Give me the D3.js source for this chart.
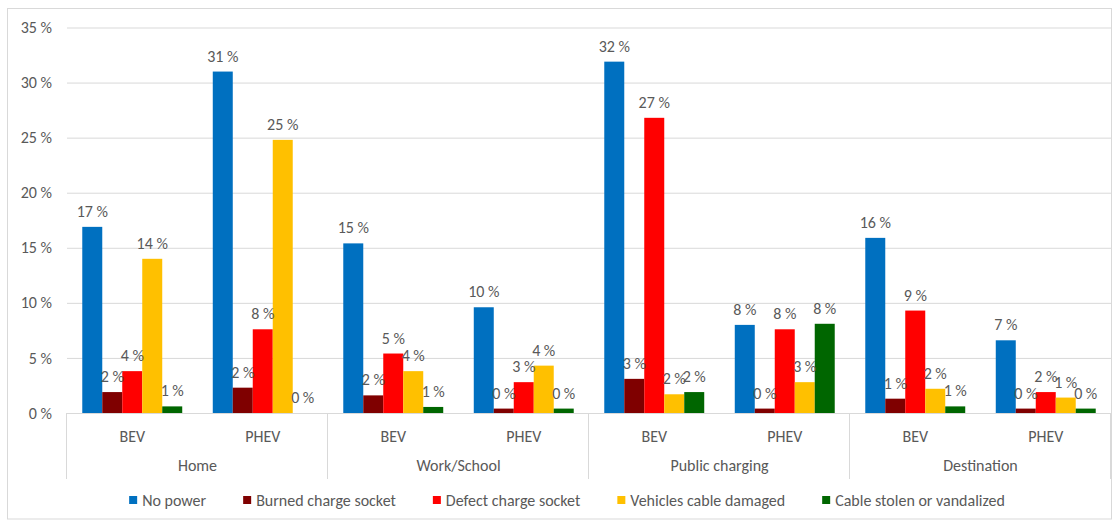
<!DOCTYPE html>
<html>
<head>
<meta charset="utf-8">
<script src="https://cdn.jsdelivr.net/npm/d3@7"></script>
<style>
  html, body { margin: 0; padding: 0; background: #fff; }
  svg { display: block; font-family: Calibri, Carlito, Lato, "Open Sans", sans-serif; }
  .lbl { fill: #595959; font-size: 16px; }
</style>
</head>
<body>
<svg id="chart" width="1112" height="522"></svg>
<script>
// Charging locations (outer level) and vehicle types (inner level)
const locations = ["Home", "Work/School", "Public charging", "Destination"];
const vehicles = ["BEV", "PHEV"];

// Failure types shown as series
const seriesNames = ["No power", "Burned charge socket", "Defect charge socket", "Vehicles cable damaged", "Cable stolen or vandalized"];
const seriesColors = ["#0070C0", "#7F0000", "#FF0000", "#FFC000", "#006600"];

// Share of respondents (%), in order: Home BEV, Home PHEV, Work BEV, Work PHEV,
// Public BEV, Public PHEV, Destination BEV, Destination PHEV
const noPower       = [16.9, 31.0, 15.4, 9.6, 31.9, 8.0, 15.9, 6.6];
const burnedSocket  = [1.9, 2.3, 1.6, 0.4, 3.1, 0.4, 1.3, 0.4];
const defectSocket  = [3.8, 7.6, 5.4, 2.8, 26.8, 7.6, 9.3, 1.9];
const cableDamaged  = [14.0, 24.8, 3.8, 4.3, 1.7, 2.8, 2.2, 1.4];
const cableStolen   = [0.6, 0.0, 0.55, 0.4, 1.9, 8.1, 0.6, 0.4];

// Value-axis ticks
const yTicks = [0, 5, 10, 15, 20, 25, 30, 35];

const seriesValues = [noPower, burnedSocket, defectSocket, cableDamaged, cableStolen];

const categories = [];
locations.forEach(l => vehicles.forEach(v => categories.push({ key: l + "|" + v, loc: l, veh: v })));

const svg = d3.select("#chart");
const plotLeft = 67, plotRight = 1111, plotTop = 27.5, plotBottom = 413;

// Outer frame
svg.append("rect")
  .attr("x", 7.5).attr("y", 8.5)
  .attr("width", 1104).attr("height", 510.5)
  .attr("fill", "none").attr("stroke", "#d9d9d9");

const y = d3.scaleLinear().domain([0, 35]).range([plotBottom, plotTop]);

const x0 = d3.scaleBand()
  .domain(categories.map(c => c.key))
  .range([plotLeft, plotRight])
  .paddingInner(0.234)
  .paddingOuter(0.117);

const x1 = d3.scaleBand()
  .domain(seriesNames)
  .range([0, x0.bandwidth()]);

const xLoc = d3.scaleBand().domain(locations).range([plotLeft, plotRight]);

// Gridlines and value labels
const yAxis = svg.append("g")
  .attr("transform", `translate(${plotLeft},0)`)
  .call(d3.axisLeft(y).tickValues(yTicks).tickSize(-(plotRight - plotLeft)).tickPadding(15).tickFormat(d => d + " %"));
yAxis.select(".domain").remove();
yAxis.selectAll(".tick line").attr("stroke", "#d9d9d9");
yAxis.selectAll(".tick text").attr("class", "lbl");
yAxis.attr("font-family", null).attr("font-size", null);

// Bars
const rows = categories.map((c, i) => ({ c, vals: seriesNames.map((s, k) => ({ s, k, v: seriesValues[k][i] })) }));

const grp = svg.append("g").selectAll("g").data(rows).join("g")
  .attr("transform", d => `translate(${x0(d.c.key)},0)`);

grp.selectAll("rect").data(d => d.vals).join("rect")
  .attr("x", d => x1(d.s))
  .attr("y", d => y(d.v))
  .attr("width", x1.bandwidth())
  .attr("height", d => y(0) - y(d.v))
  .attr("fill", d => seriesColors[d.k]);

// Data labels
grp.selectAll("text").data(d => d.vals).join("text")
  .attr("class", "lbl")
  .attr("x", d => x1(d.s) + x1.bandwidth() / 2)
  .attr("y", d => y(d.v) - 10)
  .attr("text-anchor", "middle")
  .text(d => d3.format(".0f")(d.v) + " %");

// Category axis line
svg.append("line")
  .attr("x1", plotLeft).attr("x2", plotRight)
  .attr("y1", plotBottom + 0.5).attr("y2", plotBottom + 0.5)
  .attr("stroke", "#d9d9d9");

// Inner level: vehicle types
const xAxis = svg.append("g")
  .attr("transform", `translate(0,${plotBottom})`)
  .call(d3.axisBottom(x0).tickSize(0).tickPadding(18).tickFormat(k => k.split("|")[1]));
xAxis.select(".domain").remove();
xAxis.attr("font-family", null).attr("font-size", null);
xAxis.selectAll("text").attr("class", "lbl");

// Outer level: locations
const locAxis = svg.append("g")
  .attr("transform", `translate(0,${plotBottom})`)
  .call(d3.axisBottom(xLoc).tickSize(0).tickPadding(47).tickFormat(d => d));
locAxis.select(".domain").remove();
locAxis.attr("font-family", null).attr("font-size", null);
locAxis.selectAll("text").attr("class", "lbl");

// Separators between locations
const seps = locations.map(l => xLoc(l)).concat([plotRight]);
svg.append("g").selectAll("line").data(seps).join("line")
  .attr("x1", d => Math.round(d) - 0.5).attr("x2", d => Math.round(d) - 0.5)
  .attr("y1", plotBottom).attr("y2", 479)
  .attr("stroke", "#d9d9d9");

// Legend
const legend = svg.append("g");
const items = legend.selectAll("g").data(seriesNames).join("g");
items.append("rect")
  .attr("width", 8).attr("height", 8)
  .attr("y", 496)
  .attr("fill", (d, i) => seriesColors[i]);
items.append("text")
  .attr("class", "lbl")
  .attr("x", 13).attr("y", 505.5)
  .text(d => d);

const gap = 37;
const widths = [];
items.each(function () { widths.push(13 + d3.select(this).select("text").node().getComputedTextLength()); });
const total = d3.sum(widths) + gap * (widths.length - 1);
let cx = 567 - total / 2;
items.each(function (d, i) {
  d3.select(this).attr("transform", `translate(${cx},0)`);
  cx += widths[i] + gap;
});
</script>
</body>
</html>
